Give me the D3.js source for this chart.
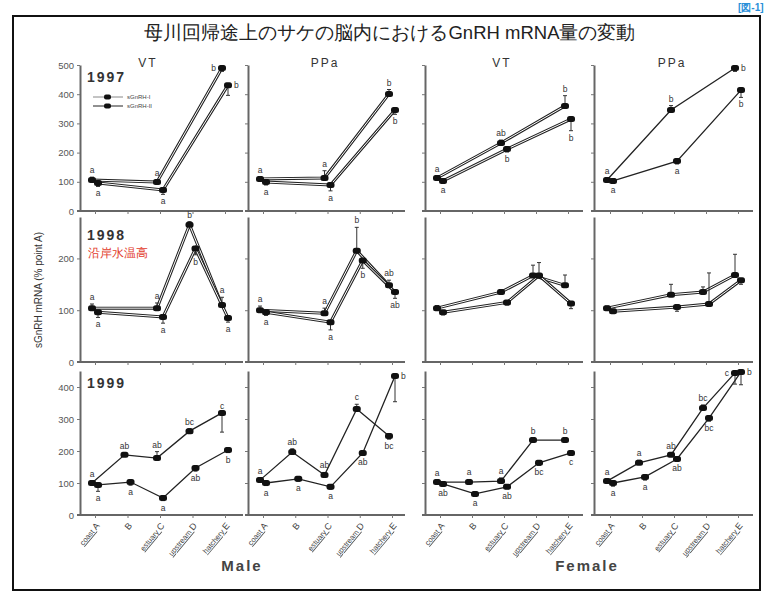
<!DOCTYPE html>
<html>
<head>
<meta charset="utf-8">
<script src="https://cdn.jsdelivr.net/npm/d3@7"></script>
<style>
  body { margin: 0; background: #fff; }
  svg { display: block; }
  text { font-family: "Liberation Sans", Arial, sans-serif; }
</style>
</head>
<body>
<div id="chart"></div>
<script>
// categories (sampling points) and labels
const categories = ["A", "B", "C", "D", "E"];
const categoryWords = ["coast", "", "estuary", "upstream", "hatchery"];
const columnTitles = ["VT", "PPa", "VT", "PPa"];
const years = ["1997", "1998", "1999"];
const seriesNames = ["sGnRH-I", "sGnRH-II"];
const rowMax = [500, 280, 450];
const rowTicks = [[0, 100, 200, 300, 400, 500], [0, 100, 200], [0, 100, 200, 300, 400]];

// columns: male VT, male PPa, female VT, female PPa
const gnrh1_1997 = [[106, null, 99, null, 490], [110, null, 113, null, 401], [113, null, 233, null, 360], [106, null, 346, null, 490]];
const gnrh2_1997 = [[96, null, 72, null, 431], [99, null, 89, null, 346], [103, null, 212, null, 315], [103, null, 171, null, 414]];
const err1_1997 = [[10, null, 8, null, -12], [8, null, 25, null, 15], [8, null, 10, null, 35], [6, null, 15, null, -12]];
const err2_1997 = [[-12, null, -15, null, -35], [-10, null, -20, null, -15], [-8, null, -10, null, -40], [-8, null, -10, null, -25]];
const let1_1997 = [["a", "", "a", "", "b"], ["a", "", "a", "", "b"], ["a", "", "ab", "", "b"], ["a", "", "b", "", "b"]];
const let2_1997 = [["a", "", "a", "", "b"], ["a", "", "a", "", "b"], ["a", "", "b", "", "b"], ["a", "", "a", "", "b"]];

const gnrh1_1998 = [[104, null, 104, 265, 110], [100, null, 94, 215, 148], [104, null, 135, 167, 148], [104, null, 130, 135, 168]];
const gnrh2_1998 = [[96, null, 87, 219, 85], [96, null, 77, 196, 135], [96, null, 115, 167, 113], [98, null, 106, 112, 158]];
const err1_1998 = [[8, null, 10, 6, 15], [8, null, 10, 45, 10], [5, null, 5, 20, 20], [4, null, 20, 10, 40]];
const err2_1998 = [[-10, null, -12, -12, -8], [-6, null, -15, -15, -12], [-5, null, -5, 25, -10], [-4, null, -8, 60, -8]];
const let1_1998 = [["a", "", "a", "b", "a"], ["a", "", "a", "b", "ab"], ["", "", "", "", ""], ["", "", "", "", ""]];
const let2_1998 = [["a", "", "a", "b", "a"], ["a", "", "a", "b", "ab"], ["", "", "", "", ""], ["", "", "", "", ""]];

const gnrh1_1999 = [[100, 188, 178, 262, 319], [109, 197, 125, 331, 247], [103, 103, 106, 234, 234], [106, 163, 188, 334, 444]];
const gnrh2_1999 = [[94, 103, 53, 147, 203], [100, 113, 88, 194, 434], [97, 66, 88, 163, 194], [100, 119, 175, 303, 447]];
const err1_1999 = [[6, 6, 20, 8, -60], [6, 10, 8, 15, -10], [5, 8, 10, 8, 8], [5, 8, 6, 10, -35]];
const err2_1999 = [[-20, -10, -8, -10, -8], [-8, -8, -8, -8, -80], [-5, -8, -6, -8, -8], [-10, -10, -6, -10, -40]];
const let1_1999 = [["a", "ab", "ab", "bc", "c"], ["a", "ab", "ab", "c", "bc"], ["a", "a", "a", "b", "b"], ["a", "a", "ab", "bc", "c"]];
const let2_1999 = [["a", "a", "a", "ab", "b"], ["a", "a", "a", "ab", "b"], ["ab", "a", "ab", "bc", "c"], ["a", "a", "ab", "bc", "b"]];

const values = [[gnrh1_1997, gnrh2_1997], [gnrh1_1998, gnrh2_1998], [gnrh1_1999, gnrh2_1999]];
const errors = [[err1_1997, err2_1997], [err1_1998, err2_1998], [err1_1999, err2_1999]];
const letters = [[let1_1997, let2_1997], [let1_1998, let2_1998], [let1_1999, let2_1999]];

// layout
const width = 773, height = 597;
const colAxis = [[80, 243], [248, 405], [425, 583], [594, 753]];
const colPoints = [[95, 225], [263, 392], [440, 568], [610, 738]];
const rowRange = [[211, 65], [362, 217], [515, 371]];
const seriesOffset = [-3, 3];

const svg = d3.select("#chart").append("svg")
  .attr("width", width).attr("height", height)
  .attr("viewBox", [0, 0, width, height]);

// outer frame
svg.append("rect").attr("x", 13).attr("y", 16).attr("width", 747).attr("height", 574)
  .attr("fill", "none").attr("stroke", "#111").attr("stroke-width", 2);

svg.append("text").attr("x", 738).attr("y", 11).attr("fill", "#2a8fd8")
  .attr("font-size", 10).attr("font-weight", "bold").attr("font-family", "Noto Sans CJK JP")
  .text("[図-1]");

// title
svg.append("text").attr("x", 390).attr("y", 39).attr("text-anchor", "middle")
  .attr("font-family", "Noto Sans CJK JP").attr("font-size", 18.5).attr("fill", "#222")
  .text("母川回帰途上のサケの脳内におけるGnRH mRNA量の変動");

// column titles
const titleX = [148, 325, 502, 672];
columnTitles.forEach((t, c) => {
  svg.append("text").attr("x", titleX[c]).attr("y", 67).attr("text-anchor", "middle")
    .attr("font-size", 12).attr("letter-spacing", 2).attr("fill", "#333").text(t);
});

// y-axis title
svg.append("text").attr("transform", "translate(42,290) rotate(-90)")
  .attr("text-anchor", "middle").attr("font-size", 10).attr("fill", "#333")
  .text("sGnRH mRNA (% point A)");

years.forEach((year, r) => {
  const y = d3.scaleLinear([0, rowMax[r]], rowRange[r]);

  columnTitles.forEach((_, c) => {
    const x = d3.scalePoint(categories, colPoints[c]);
    const g = svg.append("g");

    // left axis
    const yAxis = d3.axisLeft(y).tickValues(rowTicks[r]).tickSize(3).tickSizeOuter(0)
      .tickFormat(c === 0 ? d3.format("d") : () => "");
    const ya = g.append("g").attr("transform", `translate(${colAxis[c][0]},0)`).call(yAxis);
    ya.select(".domain").attr("stroke", "#666").attr("stroke-width", 2);
    ya.selectAll(".tick line").attr("stroke", "#777");
    ya.selectAll(".tick text").attr("font-size", 9.5).attr("fill", "#555")
      .attr("font-family", "Liberation Sans");

    // bottom axis
    g.append("line")
      .attr("x1", colAxis[c][0] - 3).attr("x2", colAxis[c][1])
      .attr("y1", y(0)).attr("y2", y(0))
      .attr("stroke", "#666").attr("stroke-width", 2);
    const xAxis = d3.axisBottom(x).tickSize(3).tickFormat(() => "");
    const xa = g.append("g").attr("transform", `translate(0,${y(0)})`).call(xAxis);
    xa.select(".domain").remove();
    xa.selectAll(".tick line").attr("stroke", "#777");

    // x labels under the last row
    if (r === years.length - 1) {
      categories.forEach((cat, i) => {
        const t = g.append("text")
          .attr("transform", `translate(${x(cat) + 5},${y(0) + 11}) rotate(-50)`)
          .attr("text-anchor", "end").attr("fill", "#444");
        if (categoryWords[i]) {
          t.append("tspan").attr("font-size", 7.5).attr("text-decoration", "underline")
            .text(categoryWords[i] + " ");
        }
        t.append("tspan").attr("font-size", 9).text(cat);
      });
    }

    // series
    const hollow = r < 2 && !(r === 0 && c === 3);
    const seriesData = [0, 1].map((s) => categories.map((cat, i) => ({
      cat, i, s,
      v: values[r][s][c][i],
      e: errors[r][s][c][i],
      l: letters[r][s][c][i],
      other: values[r][1 - s][c][i]
    })).filter((d) => d.v != null));

    const line = d3.line()
      .x((d) => x(d.cat) + seriesOffset[d.s])
      .y((d) => y(d.v));

    seriesData.forEach((pts) => {
      g.append("path").datum(pts).attr("d", line).attr("fill", "none")
        .attr("stroke", "#222").attr("stroke-width", hollow ? 3 : 1.3);
      if (hollow) {
        g.append("path").datum(pts).attr("d", line).attr("fill", "none")
          .attr("stroke", "#fff").attr("stroke-width", 1);
      }
    });

    seriesData.forEach((pts) => {
      // error bars
      g.selectAll(null).data(pts).join("line")
        .attr("x1", (d) => x(d.cat) + seriesOffset[d.s])
        .attr("x2", (d) => x(d.cat) + seriesOffset[d.s])
        .attr("y1", (d) => y(d.v))
        .attr("y2", (d) => y(d.v + d.e))
        .attr("stroke", "#333").attr("stroke-width", 1);
      g.selectAll(null).data(pts).join("line")
        .attr("x1", (d) => x(d.cat) + seriesOffset[d.s] - 2)
        .attr("x2", (d) => x(d.cat) + seriesOffset[d.s] + 2)
        .attr("y1", (d) => y(d.v + d.e))
        .attr("y2", (d) => y(d.v + d.e))
        .attr("stroke", "#333").attr("stroke-width", 1);

      // markers
      g.selectAll(null).data(pts).join("rect")
        .attr("x", (d) => x(d.cat) + seriesOffset[d.s] - 4)
        .attr("y", (d) => y(d.v) - 3)
        .attr("width", 8).attr("height", 6).attr("rx", 2.5)
        .attr("fill", "#111");

      // significance letters
      g.selectAll(null).data(pts.filter((d) => d.l)).join("text")
        .attr("font-family", "Liberation Serif").attr("font-size", 8.5).attr("fill", "#333")
        .each(function (d) {
          const px = x(d.cat) + seriesOffset[d.s];
          const py = y(d.v);
          const nearTop = d.v > rowMax[r] * 0.86 && d.e < 0;
          const above = d.other == null || d.v >= d.other;
          const t = d3.select(this);
          if (nearTop) {
            const both = d.other != null && d.other > rowMax[r] * 0.86;
            const left = both && d.s === 0;
            t.attr("x", left ? px - 6 : px + 6).attr("y", py + 3)
              .attr("text-anchor", left ? "end" : "start");
          } else if (above) {
            t.attr("x", px).attr("text-anchor", "middle")
              .attr("y", (d.e > 0 ? y(d.v + d.e) : py) - 4);
          } else {
            t.attr("x", px).attr("text-anchor", "middle")
              .attr("y", (d.e < 0 ? y(d.v + d.e) : py) + 10);
          }
        })
        .text((d) => d.l);
    });
  });
});

// year labels
const yearY = [82, 240, 388];
years.forEach((year, r) => {
  svg.append("text").attr("x", 87).attr("y", yearY[r]).attr("font-size", 14)
    .attr("font-weight", "bold").attr("letter-spacing", 2).attr("fill", "#333").text(year);
});
svg.append("text").attr("x", 88).attr("y", 257).attr("font-size", 12)
  .attr("font-family", "Noto Sans CJK JP").attr("fill", "#e23a2a").text("沿岸水温高");

// legend
const legend = svg.append("g");
seriesNames.forEach((name, s) => {
  const ly = 97 + s * 9;
  legend.append("line").attr("x1", 93).attr("x2", 123).attr("y1", ly).attr("y2", ly)
    .attr("stroke", s === 0 ? "#888" : "#222").attr("stroke-width", 1);
  legend.append("rect").attr("x", 104).attr("y", ly - 2.5).attr("width", 7).attr("height", 5)
    .attr("rx", 2).attr("fill", "#111");
  legend.append("text").attr("x", 127).attr("y", ly + 2).attr("font-size", 6).attr("fill", "#444").text(name);
});

// sex labels
svg.append("text").attr("x", 242).attr("y", 571).attr("text-anchor", "middle")
  .attr("font-size", 15).attr("font-weight", "bold").attr("letter-spacing", 2).attr("fill", "#444").text("Male");
svg.append("text").attr("x", 587).attr("y", 571).attr("text-anchor", "middle")
  .attr("font-size", 15).attr("font-weight", "bold").attr("letter-spacing", 2).attr("fill", "#444").text("Female");
</script>
</body>
</html>
